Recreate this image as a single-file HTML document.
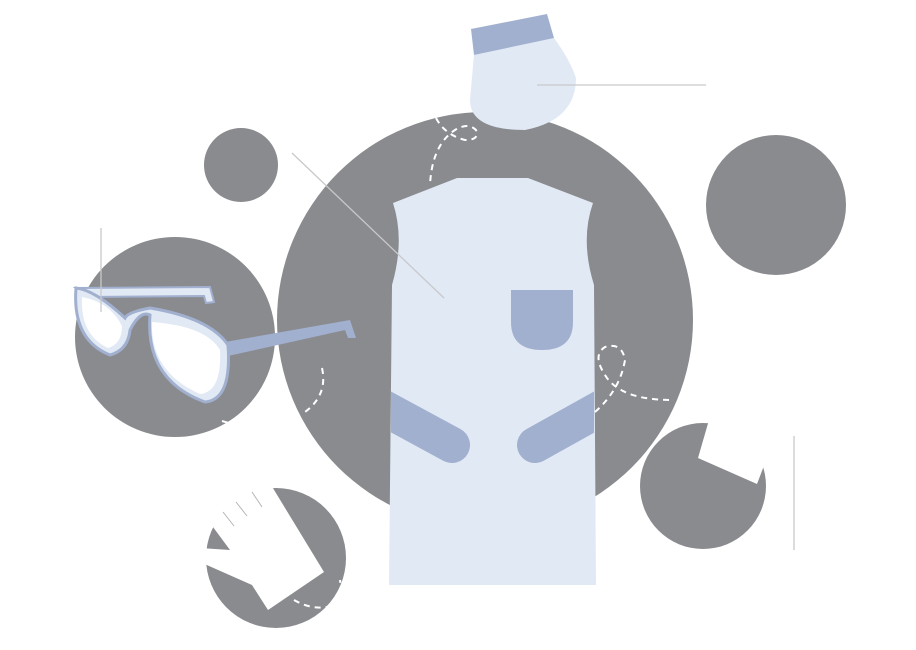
<!DOCTYPE html>
<html><head><style>html,body{margin:0;padding:0;background:#fff}svg{display:block}</style></head>
<body>
<svg width="916" height="650" viewBox="0 0 916 650" xmlns="http://www.w3.org/2000/svg">
<g fill="#8a8b8f">
<circle cx="485" cy="320" r="208"/>
<circle cx="241" cy="165" r="37"/>
<circle cx="175" cy="337" r="100"/>
<circle cx="776" cy="205" r="70"/>
<circle cx="703" cy="486" r="63"/>
<circle cx="276" cy="558" r="70"/>
</g>
<!-- notch in bottom-right circle -->
<path d="M709,420 L698,458 L757,484 L770,450 L770,410 Z" fill="#fff"/>
<!-- glove -->
<path d="M268,480 L324,572 L268,610 L252,585 L200,562 L200,548 L230,550 L213,527 L200,520 L200,470 Z" fill="#fff"/>
<g stroke="#b5b5b5" stroke-width="1"><line x1="223" y1="512" x2="234" y2="526"/><line x1="236" y1="502" x2="247" y2="516"/><line x1="252" y1="492" x2="262" y2="507"/></g>
<!-- dashed -->
<g fill="none" stroke="#fff" stroke-width="2" stroke-dasharray="6,5">
<path d="M436,118 Q445,135 465,140 Q480,140 476,130 Q468,122 455,130 Q432,145 430,185"/>
<path d="M322,368 Q328,395 305,412"/>
<path d="M595,412 Q620,390 625,360 Q622,342 605,347 Q592,355 605,375 Q620,400 672,400"/>
<path d="M294,600 Q315,612 335,605 Q342,595 340,580"/>
<path d="M222,421 L232,424"/>
</g>
<!-- apron -->
<path d="M393,203 L457,178 L528,178 L593,203 Q580,240 594,285 L596,585 L389,585 L392,285 Q405,240 393,203 Z" fill="#e1e9f5"/>
<path d="M511,290 L573,290 L573,322 Q573,350 542,350 Q511,350 511,322 Z" fill="#a2b0cf"/>
<clipPath id="ap"><rect x="391" y="300" width="203" height="300"/></clipPath>
<g stroke="#a2b0cf" stroke-width="36" stroke-linecap="round" fill="none" clip-path="url(#ap)">
<path d="M380,406 L452,445"/>
<path d="M605,406 L535,445"/>
</g>
<!-- cap -->
<path d="M474,55 L554,38 Q570,60 576,78 Q576,120 525,130 Q470,130 470,100 Z" fill="#e1e9f5"/>
<path d="M471,29 L547,14 L554,38 L474,55 Z" fill="#a2b0cf"/>
<!-- glasses -->
<path d="M76,288 L210,287 L214,302 L206,303 L204,296 L90,297 Z" fill="#e1e9f5" stroke="#a2b0cf" stroke-width="2"/>
<path d="M225,342 L350,320 L356,338 L348,338 L345,330 L228,356 Z" fill="#a2b0cf"/>
<path d="M76,288 Q72,340 110,355 Q128,350 130,330 Q140,310 150,315 Q145,380 205,402 Q232,400 228,345 Q210,318 150,308 Q128,312 125,318 Q95,290 76,288 Z" fill="#e1e9f5" stroke="#a2b0cf" stroke-width="3"/>
<path d="M82,297 Q80,335 108,348 Q122,344 122,326 Q110,302 82,297 Z" fill="#fff"/>
<path d="M152,322 Q150,372 200,394 Q222,392 220,350 Q206,326 152,322 Z" fill="#fff"/>
<!-- lines -->
<g stroke="#c9c9c9" stroke-width="1.3">
<line x1="537" y1="85" x2="706" y2="85"/>
<line x1="292" y1="153" x2="444" y2="298"/>
<line x1="101" y1="228" x2="101" y2="312"/>
<line x1="794" y1="436" x2="794" y2="550"/>
</g>
</svg>
</body></html>
